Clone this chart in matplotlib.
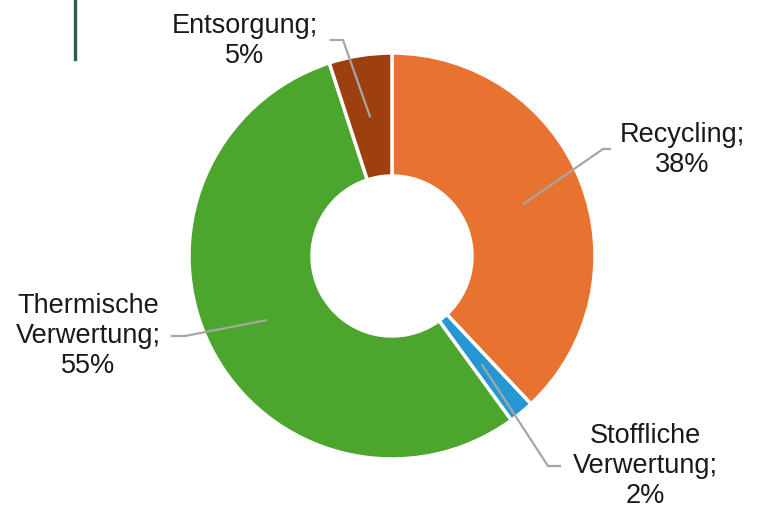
import numpy as np
import matplotlib.pyplot as plt
from matplotlib.lines import Line2D

plt.rcParams['font.family'] = ['Liberation Sans', 'DejaVu Sans']

# Anteile je Verwertungsweg (im Uhrzeigersinn ab 12 Uhr)
kategorien = ['Recycling', 'Stoffliche\nVerwertung', 'Thermische\nVerwertung', 'Entsorgung']
anteile = [38, 2, 55, 5]
farben = ['#E8722F', '#2597D3', '#4CA52C', '#9E3F10']

# Textposition (Pixel) und Knickpunkt der Führungslinie je Kategorie
text_pos = [(682, 150), (645, 466), (88, 336), (245, 41)]
knick = [(610, 149), (560, 466), (172, 336), (331, 40)]
knick_start = [(603, 149), (548, 466), (185, 336), (343, 40)]

W, H = 762, 508
cx, cy, R = 392, 256, 203
innen = 0.394

fig = plt.figure(figsize=(W / 100, H / 100), dpi=100)
ax = fig.add_axes([(cx - R) / W, (H - cy - R) / H, 2 * R / W, 2 * R / H])

wedges, _ = ax.pie(anteile, colors=farben, startangle=90, counterclock=False,
                   radius=1.0, wedgeprops=dict(width=1 - innen, edgecolor='white', linewidth=2.5))
ax.set_xlim(-1, 1)
ax.set_ylim(-1, 1)
ax.axis('off')


def px2d(p):
    return ((p[0] - cx) / R, (cy - p[1]) / R)


r_mitte = (1 + innen) / 2
for w, name, wert, tp, k1, k0 in zip(wedges, kategorien, anteile, text_pos, knick, knick_start):
    winkel = np.deg2rad((w.theta1 + w.theta2) / 2)
    ax_pt = (r_mitte * np.cos(winkel), r_mitte * np.sin(winkel))
    a = px2d(k0)
    b = px2d(k1)
    ax.add_line(Line2D([ax_pt[0], a[0], b[0]], [ax_pt[1], a[1], b[1]],
                       color='#A6A6A6', lw=1.6, clip_on=False))
    t = px2d(tp)
    ax.text(t[0], t[1], f'{name};\n{wert}%', ha='center', va='center',
            fontsize=19.5, color='#1A1A1A', linespacing=1.22, clip_on=False)

# dunkelgrüne Randmarkierung oben links
fig.add_artist(Line2D([75 / W, 75 / W], [1, 1 - 59 / H], color='#2B5C52', lw=2.4))

fig.savefig('out.png', dpi=100)
